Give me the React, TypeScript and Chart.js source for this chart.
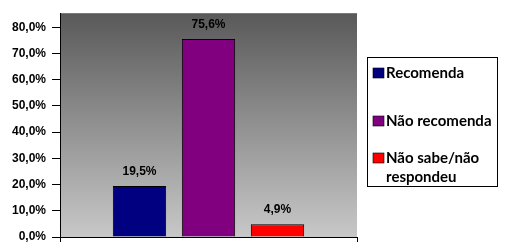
import React, { useEffect, useRef } from "react";
import { Chart, registerables } from "chart.js";

Chart.register(...registerables);

const categories = [""];
const seriesNames = ["Recomenda", "Não recomenda", "Não sabe/não respondeu"];
const seriesValues = [19.5, 75.6, 4.9];
const seriesColors = ["#000080", "#800080", "#FF0000"];
const yTicks = [0, 10, 20, 30, 40, 50, 60, 70, 80];

const fmt = (v: number) => v.toFixed(1).replace(".", ",") + "%";

const W = 506;
const H = 252;
const LABEL_FONT = "'Liberation Sans'";

const bgPlugin = {
  id: "bgGradient",
  beforeDraw(chart: any) {
    const { ctx, chartArea } = chart;
    const { left, top, right, bottom } = chartArea;
    const g = ctx.createLinearGradient(0, top, 0, bottom);
    g.addColorStop(0, "#595959");
    g.addColorStop(1, "#c8c8c8");
    ctx.save();
    ctx.fillStyle = g;
    ctx.fillRect(left, top, right - left, bottom - top);
    ctx.restore();
  },
};

const labelPlugin = {
  id: "valueLabels",
  afterDatasetsDraw(chart: any) {
    const { ctx } = chart;
    ctx.save();
    ctx.font = `bold 12px ${LABEL_FONT}`;
    ctx.fillStyle = "#000";
    ctx.textAlign = "center";
    ctx.textBaseline = "middle";
    chart.data.datasets.forEach((ds: any, i: number) => {
      const meta = chart.getDatasetMeta(i);
      meta.data.forEach((bar: any, j: number) => {
        ctx.fillText(fmt(ds.data[j]), bar.x, bar.y - 14);
      });
    });
    ctx.restore();
  },
};

const legendPlugin = {
  id: "boxLegend",
  afterDraw(chart: any) {
    const { ctx } = chart;
    const box = { x: 367.5, y: 57.5, w: 130, h: 129 };
    const firstLineY = [73, 121, 158];
    const lineH = 19;
    const maxW = 108;
    ctx.save();
    ctx.fillStyle = "#fff";
    ctx.fillRect(box.x, box.y, box.w, box.h);
    ctx.strokeStyle = "#000";
    ctx.lineWidth = 1;
    ctx.strokeRect(box.x, box.y, box.w, box.h);
    ctx.font = "bold 15px Lato";
    ctx.textAlign = "left";
    ctx.textBaseline = "middle";
    chart.data.datasets.forEach((ds: any, i: number) => {
      const cy = firstLineY[i];
      ctx.fillStyle = ds.backgroundColor;
      ctx.fillRect(373, cy - 5, 11, 10);
      ctx.strokeStyle = "#000";
      ctx.lineWidth = 0.6;
      ctx.strokeRect(373, cy - 5, 11, 10);
      const words = String(ds.label).split(" ");
      const lines: string[] = [];
      let cur = "";
      words.forEach((w) => {
        const t = cur ? cur + " " + w : w;
        if (ctx.measureText(t).width > maxW && cur) {
          lines.push(cur);
          cur = w;
        } else cur = t;
      });
      if (cur) lines.push(cur);
      ctx.fillStyle = "#000";
      lines.forEach((l, k) => ctx.fillText(l, 386, cy + k * lineH));
    });
    ctx.restore();
  },
};

export default function App() {
  const ref = useRef<HTMLCanvasElement>(null);
  useEffect(() => {
    const chart = new Chart(ref.current!, {
      type: "bar",
      data: {
        labels: categories,
        datasets: seriesNames.map((name, i) => ({
          label: name,
          data: [seriesValues[i]],
          backgroundColor: seriesColors[i],
          borderColor: "#000",
          borderWidth: 1,
          categoryPercentage: 0.697,
          barPercentage: 0.773,
        })),
      },
      options: {
        responsive: false,
        animation: false,
        devicePixelRatio: 1,
        layout: { padding: { top: 9, right: 149, left: 0, bottom: 0 } },
        plugins: { legend: { display: false }, tooltip: { enabled: false } },
        scales: {
          x: {
            offset: true,
            grid: {
              offset: true,
              drawOnChartArea: false,
              tickLength: 5,
              color: "#000",
            },
            border: { display: true, color: "#000", width: 1 },
            ticks: { display: false },
            afterFit(s: any) {
              s.height = 15;
            },
          },
          y: {
            min: 0,
            max: 85.4,
            grid: {
              drawOnChartArea: false,
              tickLength: 8,
              color: "#000",
            },
            border: { display: true, color: "#000", width: 1 },
            afterBuildTicks(s: any) {
              s.ticks = yTicks.map((v) => ({ value: v }));
            },
            ticks: {
              padding: 6,
              color: "#000",
              font: { family: LABEL_FONT, weight: "bold", size: 12 },
              callback: (v: any) => fmt(Number(v)),
            },
            afterFit(s: any) {
              s.width = 60;
            },
          },
        },
      },
      plugins: [bgPlugin, labelPlugin, legendPlugin],
    });
    return () => chart.destroy();
  }, []);
  return (
    <div style={{ position: "fixed", left: 0, top: 0, width: W, height: H, background: "#fff" }}>
      <canvas ref={ref} width={W} height={H} style={{ width: W, height: H, display: "block" }} />
    </div>
  );
}
